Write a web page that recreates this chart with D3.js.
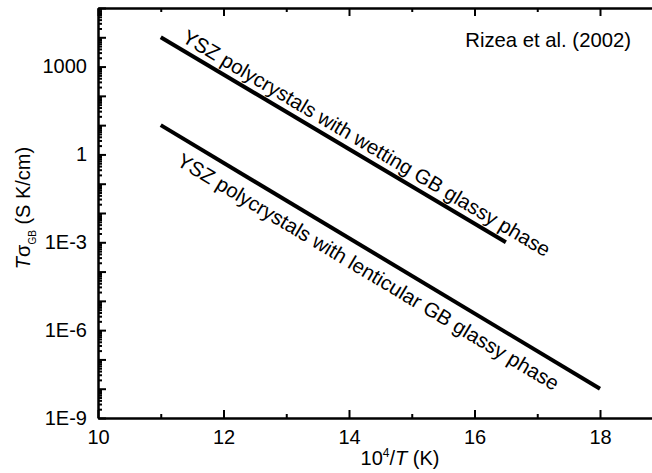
<!DOCTYPE html>
<html><head><meta charset="utf-8">
<script src="https://cdn.jsdelivr.net/npm/d3@7"></script>
<style>
body{margin:0;background:#fff;overflow:hidden}
text{font-family:"Liberation Sans",Arial,sans-serif;fill:#000}
</style>
</head><body><svg id="c" width="652" height="473"></svg>
<script>
// ---- data ----
const xMajorTicks = [10, 12, 14, 16, 18];
const xMinorTicks = [11, 13, 15, 17];
const xTickLabels = ["10", "12", "14", "16", "18"];
const yLabelValues = [1e-9, 1e-6, 1e-3, 1, 1000];
const yTickLabels = ["1E-9", "1E-6", "1E-3", "1", "1000"];
const seriesNames = ["YSZ polycrystals with wetting GB glassy phase",
                     "YSZ polycrystals with lenticular GB glassy phase"];
const wettingX = [11, 16.5];
const wettingY = [1e4, 1e-3];
const lenticularX = [11, 18];
const lenticularY = [10, 1e-8];
const annotation = "Rizea et al. (2002)";

// ---- layout ----
const L = 98, T = 8, B = 418;
const svg = d3.select("#c");
const x = d3.scaleLinear().domain([10, 19]).range([L, L + 9 * 62.75]);
const y = d3.scaleLog().domain([1e-9, 1e5]).range([B, T]);

const decades = d3.range(-9, 6).map(e => Math.pow(10, e));
const yMinor = [];
decades.slice(0, -1).forEach(d => { for (let k = 2; k <= 9; k++) yMinor.push(d * k); });

function styleAxis(g) {
  g.selectAll(".domain").attr("stroke", "#000").attr("stroke-width", 2.5);
  g.selectAll(".tick line").attr("stroke", "#000").attr("stroke-width", 2);
  g.selectAll(".tick text").style("font-size", "20px").attr("fill", "#000");
}

// bottom axis
svg.append("g").attr("transform", `translate(0,${B})`)
  .call(d3.axisBottom(x).tickValues(xMajorTicks).tickSize(-8).tickSizeOuter(0).tickPadding(12)
    .tickFormat((d, i) => xTickLabels[i]))
  .call(styleAxis).call(g => g.attr("font-family", null));
svg.append("g").attr("transform", `translate(0,${B})`)
  .call(d3.axisBottom(x).tickValues(xMinorTicks).tickSize(-4).tickSizeOuter(0).tickFormat(""))
  .call(styleAxis).call(g => g.select(".domain").remove());

// top axis
svg.append("g").attr("transform", `translate(0,${T})`)
  .call(d3.axisTop(x).tickValues(xMajorTicks).tickSize(-8).tickSizeOuter(0).tickFormat(""))
  .call(styleAxis);
svg.append("g").attr("transform", `translate(0,${T})`)
  .call(d3.axisTop(x).tickValues(xMinorTicks).tickSize(-4).tickSizeOuter(0).tickFormat(""))
  .call(styleAxis).call(g => g.select(".domain").remove());

// left axis
svg.append("g").attr("transform", `translate(${L},0)`)
  .call(d3.axisLeft(y).tickValues(decades).tickSize(-8).tickSizeOuter(0).tickPadding(11)
    .tickFormat(d => {
      const i = yLabelValues.findIndex(v => Math.abs(Math.log10(v) - Math.log10(d)) < 1e-6);
      return i >= 0 ? yTickLabels[i] : "";
    }))
  .call(styleAxis).call(g => g.attr("font-family", null));
svg.append("g").attr("transform", `translate(${L},0)`)
  .call(d3.axisLeft(y).tickValues(yMinor).tickSize(-4).tickSizeOuter(0).tickFormat(""))
  .call(styleAxis).call(g => g.select(".domain").remove());

// lines
const line = d3.line().x(d => x(d[0])).y(d => y(d[1]));
const series = [
  { xs: wettingX, ys: wettingY, name: seriesNames[0], at: 11.26, off: -7 },
  { xs: lenticularX, ys: lenticularY, name: seriesNames[1], at: 11.45, off: 26 }
];
series.forEach(s => {
  const pts = s.xs.map((v, i) => [v, s.ys[i]]);
  svg.append("path").attr("d", line(pts)).attr("fill", "none")
    .attr("stroke", "#000").attr("stroke-width", 4);
  const x0 = x(pts[0][0]), y0 = y(pts[0][1]), x1 = x(pts[1][0]), y1 = y(pts[1][1]);
  const ang = Math.atan2(y1 - y0, x1 - x0) * 180 / Math.PI;
  const fx = x(s.at), fy = y0 + (fx - x0) * (y1 - y0) / (x1 - x0);
  svg.append("text").attr("transform", `translate(${fx},${fy}) rotate(${ang})`)
    .attr("y", s.off).style("font-size", "20.4px").text(s.name);
});

// annotation
svg.append("text").attr("x", 631).attr("y", 47).attr("text-anchor", "end")
  .style("font-size", "20.3px").text(annotation);

// x title
const xt = svg.append("text").attr("x", 400).attr("y", 465).attr("text-anchor", "middle")
  .style("font-size", "20px");
xt.append("tspan").text("10");
xt.append("tspan").attr("dy", -8).style("font-size", "12px").text("4");
xt.append("tspan").attr("dy", 8).text("/");
xt.append("tspan").style("font-style", "italic").text("T");
xt.append("tspan").text(" (K)");

// y title
const yt = svg.append("text").attr("transform", `translate(30,208) rotate(-90)`)
  .attr("text-anchor", "middle").style("font-size", "20px");
yt.append("tspan").style("font-style", "italic").text("T");
yt.append("tspan").text("σ");
yt.append("tspan").attr("dy", 6).style("font-size", "10px").text("GB");
yt.append("tspan").attr("dy", -6).text(" (S K/cm)");
</script></body></html>
